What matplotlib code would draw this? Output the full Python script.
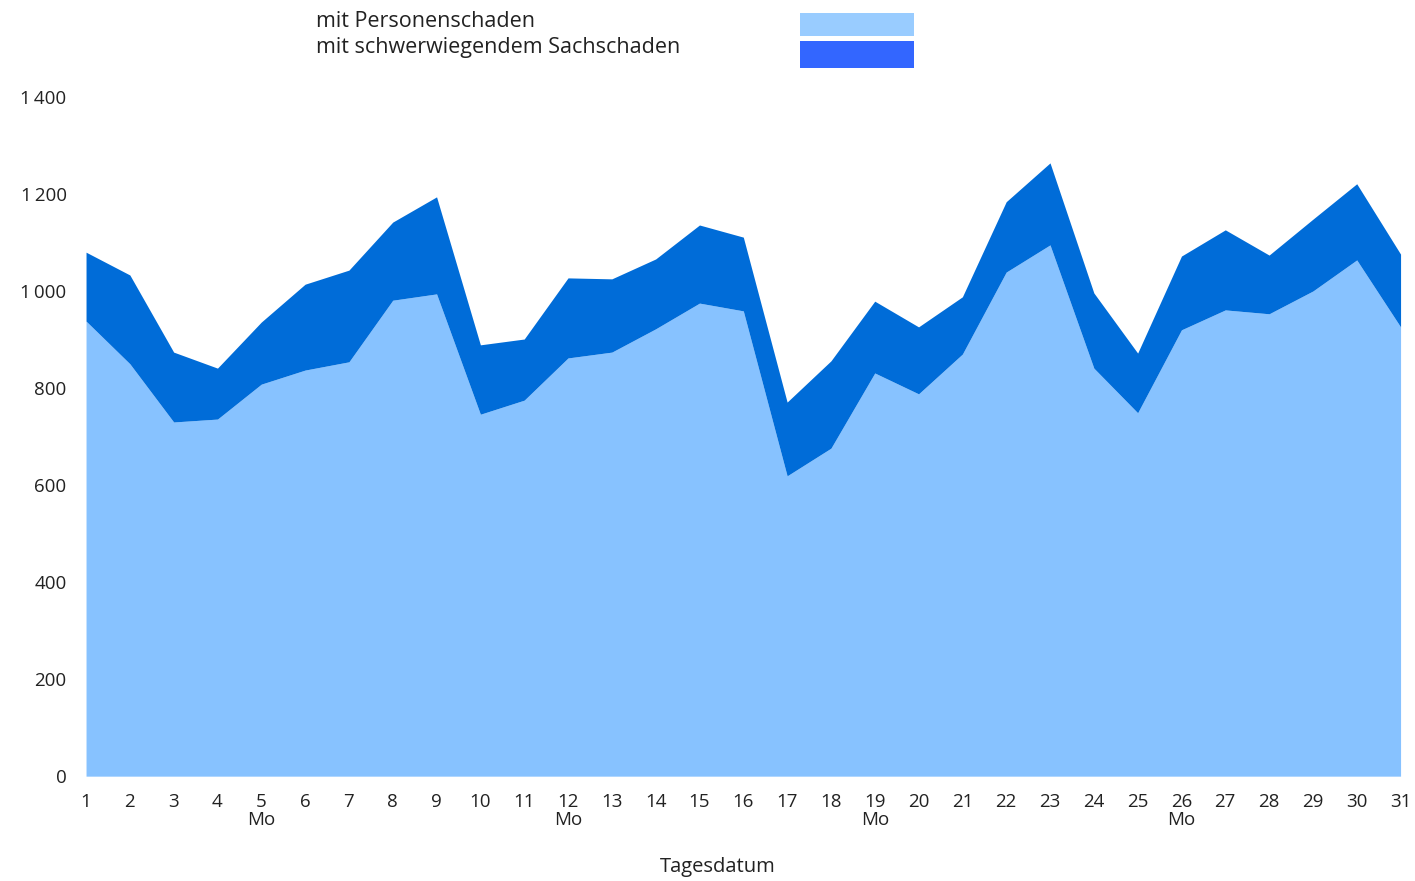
import matplotlib
matplotlib.use("Agg")
import matplotlib.pyplot as plt
from matplotlib.patches import Rectangle

plt.rcParams['font.family'] = ['Open Sans', 'DejaVu Sans']

tage = list(range(1, 32))
personenschaden = [938, 850, 730, 736, 808, 837, 854, 981, 994, 746, 775, 862, 874, 922, 975,
                   959, 619, 676, 831, 788, 870, 1039, 1095, 841, 749, 920, 961, 953, 1000, 1064, 926]
gesamt = [1080, 1033, 874, 841, 936, 1014, 1043, 1142, 1194, 889, 901, 1027, 1025, 1066, 1136,
          1111, 771, 856, 979, 926, 988, 1184, 1264, 996, 872, 1072, 1126, 1074, 1148, 1221, 1076]
montage = [5, 12, 19, 26]

col_light = '#87c2ff'
col_dark = '#006cd8'
txt = '#222222'

fig = plt.figure(figsize=(14.15, 8.81), dpi=100)
ax = fig.add_axes([0.0608, 0.119, 0.929, 0.771])

ax.fill_between(tage, 0, personenschaden, color=col_light, linewidth=0)
ax.fill_between(tage, personenschaden, gesamt, color=col_dark, linewidth=0)

ax.set_xlim(1, 31)
ax.set_ylim(0, 1400)
ax.set_yticks(range(0, 1401, 200))
ax.set_yticklabels([f"{v:,}".replace(",", "\u2009") for v in range(0, 1401, 200)])
ax.set_xticks(tage)
ax.set_xticklabels([f"{t}\nMo" if t in montage else str(t) for t in tage])
for s in ax.spines.values():
    s.set_visible(False)
ax.tick_params(length=0, labelsize=13.5, colors=txt)
ax.tick_params(axis='y', pad=14)
ax.tick_params(axis='x', pad=12)
for lbl in ax.get_xticklabels():
    lbl.set_linespacing(1.0)

# Achsentitel knapp ueber dem unteren Rand
fig.text(0.507, 0.004, "Tagesdatum", fontsize=14.5, color=txt, ha='center', va='bottom')

fig.text(0.2233, 0.976, "mit Personenschaden", fontsize=15.5, color=txt, va='center')
fig.text(0.2233, 0.946, "mit schwerwiegendem Sachschaden", fontsize=15.5, color=txt, va='center')
fig.patches.append(Rectangle((0.5654, 0.959), 0.0806, 0.026, transform=fig.transFigure,
                             facecolor='#99ccff', edgecolor='none'))
fig.patches.append(Rectangle((0.5654, 0.923), 0.0806, 0.030, transform=fig.transFigure,
                             facecolor='#3366ff', edgecolor='none'))

fig.savefig("out.png", dpi=100)
